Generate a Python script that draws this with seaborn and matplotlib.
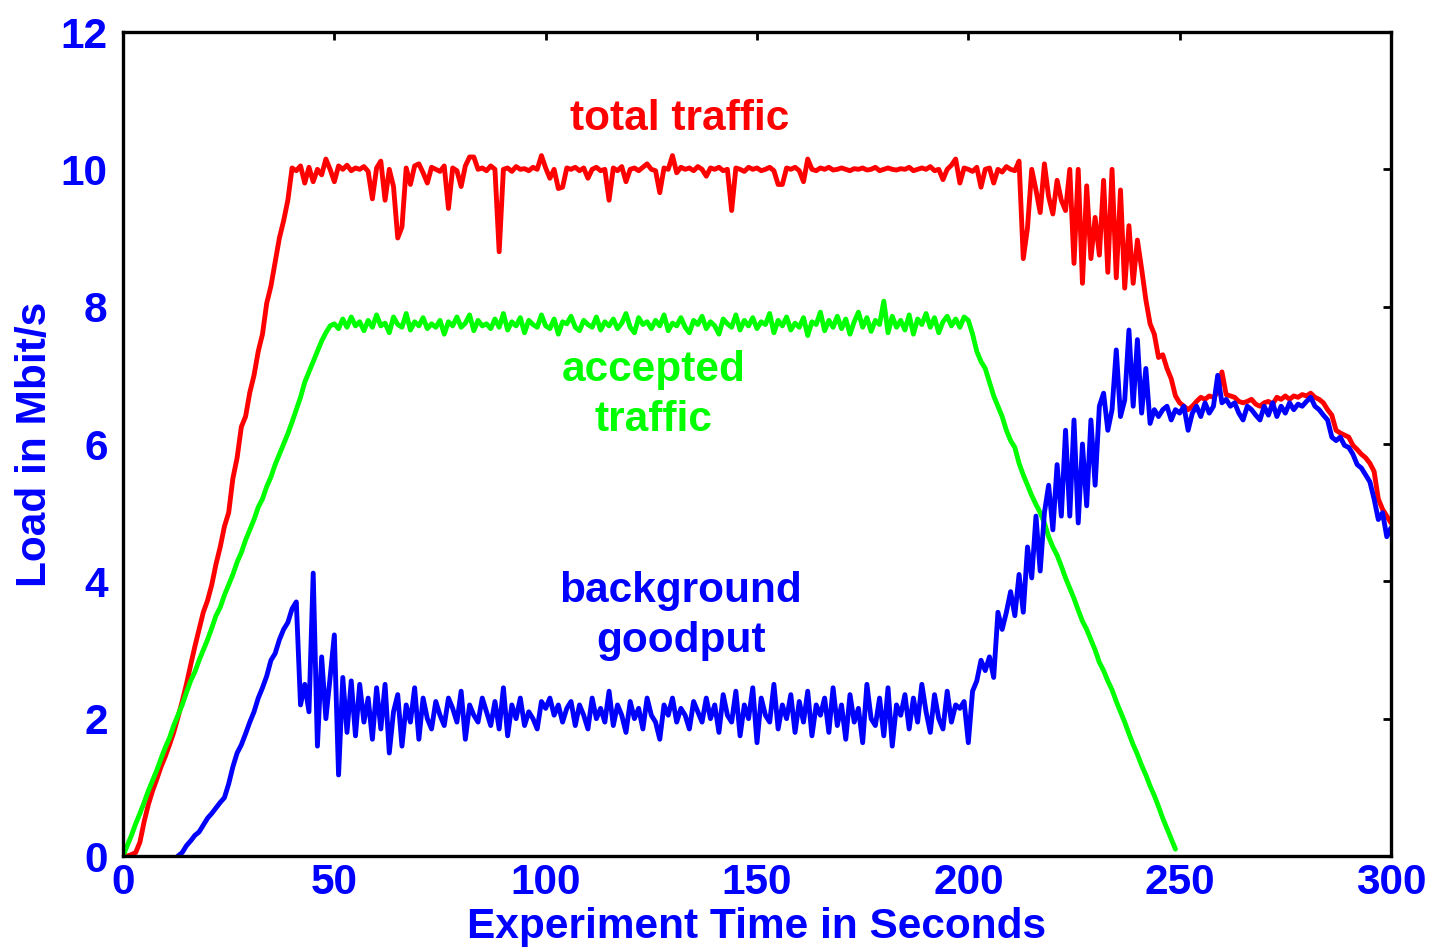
import numpy as np
import pandas as pd
import matplotlib
matplotlib.use("Agg")
import matplotlib.pyplot as plt
import seaborn as sns

# ---------------- data (1 s sampling) ----------------
time_s = list(range(0, 301))

total_traffic = [
    0.0, 0.0, 0.02, 0.05, 0.2, 0.5, 0.75, 0.95, 1.12, 1.3,
    1.45, 1.62, 1.8, 2.02, 2.25, 2.5, 2.78, 3.05, 3.3, 3.55,
    3.72, 3.95, 4.25, 4.5, 4.8, 5.0, 5.5, 5.8, 6.25, 6.4,
    6.75, 7.0, 7.35, 7.6, 8.05, 8.3, 8.65, 9.0, 9.25, 9.55,
    10.02, 9.98, 10.05, 9.8, 10.03, 9.82, 10.0, 9.92, 10.15, 10.0,
    9.82, 10.05, 10.0, 10.06, 9.98, 10.02, 10.0, 10.04, 9.97, 9.57,
    10.02, 10.12, 9.55, 10.0, 9.75, 9.0, 9.16, 10.02, 9.78, 10.05,
    10.08, 9.95, 9.8, 10.03, 10.0, 9.97, 10.05, 9.43, 10.02, 9.98,
    9.75, 10.05, 10.18, 10.18, 10.0, 10.02, 9.98, 10.05, 10.0, 8.8,
    10.0, 10.02, 9.97, 10.04, 10.0, 10.01, 9.98, 10.03, 10.0, 10.2,
    10.02, 9.87, 10.0, 9.72, 9.74, 10.02, 10.0, 10.03, 9.98, 10.02,
    9.87, 10.0, 10.03, 9.98, 10.0, 9.55, 10.02, 9.98, 10.04, 9.82,
    10.0, 10.02, 9.98, 10.03, 10.08, 10.0, 9.98, 9.66, 10.02, 10.0,
    10.2, 9.95, 10.03, 10.0, 10.02, 9.98, 10.04, 10.0, 9.9, 10.02,
    10.0, 10.03, 9.98, 10.0, 9.4, 10.02, 10.0, 9.97, 10.03, 10.0,
    10.02, 9.98, 10.0, 10.03, 9.98, 9.78, 9.78, 10.02, 10.0, 10.03,
    9.98, 9.82, 10.15, 10.0, 9.98, 10.02, 10.0, 10.03, 9.99, 10.0,
    10.02, 10.0, 9.98, 10.01, 10.0, 10.02, 9.99, 10.0, 10.03, 9.98,
    10.0, 10.02, 10.0, 9.99, 10.01, 10.0, 10.03, 9.98, 10.0, 10.02,
    10.0, 10.04, 9.98, 10.0, 9.85, 10.0, 10.06, 10.15, 9.8, 10.02,
    10.0, 9.97, 10.03, 9.74, 10.0, 10.02, 9.8, 10.0, 9.96, 10.04,
    10.0, 9.98, 10.12, 8.7, 9.15, 10.0, 9.7, 9.37, 10.08, 9.6,
    9.35, 9.84, 9.55, 9.4, 10.0, 8.63, 10.0, 8.34, 9.76, 8.7,
    9.3, 8.75, 9.84, 8.5, 10.0, 8.42, 9.7, 8.27, 9.18, 8.34,
    8.97, 8.55, 8.1, 7.75, 7.6, 7.26, 7.3, 7.1, 6.95, 6.7,
    6.6, 6.55, 6.5, 6.55, 6.62, 6.68, 6.65, 6.7, 6.68, 6.75,
    7.05, 6.72, 6.7, 6.68, 6.62, 6.6, 6.62, 6.65, 6.58, 6.55,
    6.6, 6.62, 6.58, 6.68, 6.65, 6.7, 6.65, 6.7, 6.68, 6.72,
    6.7, 6.74, 6.68, 6.65, 6.6, 6.5, 6.42, 6.2, 6.16, 6.13,
    6.1, 5.98, 5.92, 5.85, 5.8, 5.72, 5.6, 5.2, 5.05, 4.95,
    4.85,
]

nan = float("nan")
background_goodput = [
    nan, nan, nan, nan, nan, nan, nan, nan, nan, nan,
    nan, nan, nan, 0.0, 0.05, 0.15, 0.22, 0.3, 0.35, 0.45,
    0.55, 0.62, 0.7, 0.78, 0.85, 1.05, 1.3, 1.5, 1.62, 1.78,
    1.95, 2.1, 2.3, 2.45, 2.62, 2.85, 2.95, 3.15, 3.3, 3.4,
    3.6, 3.7, 2.2, 2.5, 2.1, 4.12, 1.6, 2.9, 2.0, 2.6,
    3.22, 1.18, 2.6, 1.8, 2.55, 1.75, 2.5, 1.95, 2.3, 1.7,
    2.45, 1.85, 2.5, 1.5, 2.1, 2.35, 1.6, 2.2, 1.95, 2.45,
    1.7, 2.3, 2.0, 1.85, 2.25, 2.05, 1.9, 2.3, 2.15, 1.95,
    2.4, 1.7, 2.2, 2.05, 1.95, 2.3, 2.1, 1.9, 2.25, 1.85,
    2.45, 1.75, 2.2, 2.0, 2.3, 1.9, 2.1, 2.0, 1.85, 2.25,
    2.15, 2.3, 2.05, 2.2, 1.95, 2.15, 2.25, 1.9, 2.2, 2.05,
    1.85, 2.3, 2.0, 2.15, 1.95, 2.4, 1.9, 2.2, 2.05, 1.8,
    2.25, 2.0, 2.15, 1.85, 2.3, 2.05, 1.95, 1.7, 2.2, 2.05,
    2.3, 1.95, 2.15, 2.05, 1.85, 2.25, 2.1, 1.95, 2.3, 2.0,
    2.2, 1.8, 2.35, 2.05, 1.95, 2.4, 1.75, 2.2, 2.0, 2.45,
    1.65, 2.3, 2.05, 1.95, 2.5, 1.85, 2.2, 2.0, 2.35, 1.8,
    2.25, 1.95, 2.4, 1.75, 2.2, 2.05, 2.3, 1.8, 2.45, 1.9,
    2.2, 1.7, 2.35, 1.95, 2.15, 1.65, 2.5, 2.0, 1.9, 2.3,
    1.75, 2.45, 1.6, 2.2, 2.05, 2.35, 1.85, 2.3, 1.95, 2.5,
    2.1, 1.8, 2.35, 2.0, 1.85, 2.4, 1.95, 2.2, 2.15, 2.25,
    1.65, 2.4, 2.55, 2.85, 2.7, 2.9, 2.6, 3.55, 3.3, 3.55,
    3.85, 3.5, 4.1, 3.55, 4.5, 4.05, 4.95, 4.15, 5.0, 5.4,
    4.75, 5.7, 4.95, 6.2, 4.95, 6.35, 4.85, 6.0, 5.1, 6.35,
    5.4, 6.55, 6.74, 6.2, 6.5, 7.37, 6.4, 6.64, 7.66, 6.55,
    7.52, 6.45, 7.1, 6.3, 6.5, 6.4, 6.5, 6.55, 6.35, 6.5,
    6.45, 6.55, 6.2, 6.45, 6.55, 6.4, 6.6, 6.45, 6.55, 7.0,
    6.6, 6.65, 6.55, 6.6, 6.45, 6.35, 6.55, 6.5, 6.42, 6.35,
    6.55, 6.42, 6.6, 6.4, 6.55, 6.45, 6.6, 6.5, 6.58, 6.55,
    6.62, 6.68, 6.55, 6.5, 6.42, 6.35, 6.1, 6.05, 6.1, 5.98,
    5.95, 5.85, 5.7, 5.65, 5.55, 5.45, 5.2, 4.9, 5.0, 4.65,
    4.78,
]

accepted_traffic = [
    0.0, 0.15, 0.3, 0.47, 0.62, 0.78, 0.95, 1.1, 1.25, 1.42,
    1.58, 1.72, 1.9, 2.05, 2.2, 2.38, 2.55, 2.68, 2.85, 3.0,
    3.15, 3.32, 3.5, 3.62, 3.8, 3.95, 4.1, 4.28, 4.42, 4.6,
    4.75, 4.9, 5.08, 5.2, 5.38, 5.52, 5.7, 5.85, 6.0, 6.15,
    6.32, 6.5, 6.68, 6.9, 7.05, 7.2, 7.35, 7.5, 7.62, 7.72,
    7.75, 7.68, 7.82, 7.7, 7.85, 7.72, 7.78, 7.65, 7.8, 7.7,
    7.88, 7.72, 7.76, 7.62, 7.85, 7.74, 7.7, 7.9, 7.66, 7.78,
    7.72, 7.84, 7.68, 7.75, 7.7, 7.8, 7.6, 7.78, 7.72, 7.85,
    7.7, 7.76, 7.88, 7.65, 7.8, 7.72, 7.75, 7.68, 7.82, 7.7,
    7.9, 7.66, 7.78, 7.72, 7.84, 7.62, 7.8, 7.74, 7.7, 7.88,
    7.72, 7.68, 7.82, 7.6, 7.78, 7.75, 7.86, 7.7, 7.65, 7.8,
    7.74, 7.7, 7.85, 7.66, 7.78, 7.72, 7.82, 7.68, 7.76, 7.9,
    7.7, 7.62, 7.84, 7.74, 7.78, 7.68, 7.8, 7.72, 7.88, 7.65,
    7.76, 7.72, 7.84, 7.7, 7.62, 7.8, 7.74, 7.86, 7.68, 7.78,
    7.72, 7.6, 7.82, 7.75, 7.7, 7.88, 7.66, 7.8, 7.72, 7.84,
    7.68, 7.78, 7.74, 7.9, 7.62, 7.8, 7.72, 7.85, 7.66, 7.76,
    7.7, 7.84, 7.58, 7.78, 7.74, 7.92, 7.65, 7.8, 7.7, 7.86,
    7.68, 7.82, 7.6, 7.78, 7.92, 7.7, 7.84, 7.64, 7.8, 7.74,
    8.08, 7.62, 7.86, 7.7, 7.8, 7.66, 7.88, 7.6, 7.82, 7.74,
    7.9, 7.7, 7.84, 7.62, 7.78, 7.86, 7.72, 7.82, 7.7, 7.85,
    7.8, 7.6, 7.35, 7.2, 7.1, 6.9, 6.7, 6.55, 6.4, 6.2,
    6.05, 5.95, 5.72, 5.55, 5.4, 5.25, 5.12, 5.0, 4.85, 4.65,
    4.5, 4.38, 4.22, 4.05, 3.9, 3.75, 3.58, 3.42, 3.3, 3.15,
    3.0, 2.82, 2.7, 2.55, 2.42, 2.25, 2.1, 1.95, 1.78, 1.62,
    1.48, 1.32, 1.18, 1.02, 0.88, 0.72, 0.55, 0.4, 0.25, 0.1,
]

series_names = ["total traffic", "accepted traffic", "background goodput"]
series_colors = {"total traffic": "#ff0000",
                 "accepted traffic": "#00ff00",
                 "background goodput": "#0000ff"}

x_ticks = [0, 50, 100, 150, 200, 250, 300]
y_ticks = [0, 2, 4, 6, 8, 10, 12]

# ---------------- build long-form table ----------------
frames = []
for name, vals in zip(series_names, [total_traffic, accepted_traffic, background_goodput]):
    frames.append(pd.DataFrame({"t": time_s[:len(vals)], "v": vals, "series": name}))
df = pd.concat(frames, ignore_index=True).dropna()

# ---------------- style ----------------
sns.set_theme(style="white")
plt.rcParams["font.family"] = ["Liberation Sans", "DejaVu Sans"]
plt.rcParams["font.weight"] = "bold"

BLUE = "#0000ff"
FS = 30.5

fig = plt.figure(figsize=(14.37, 9.49), dpi=100)
W, H = 1437, 949
ax = fig.add_axes([123 / W, 1 - 856 / H, (1391 - 123) / W, (856 - 32) / H])

sns.lineplot(data=df, x="t", y="v", hue="series", hue_order=series_names,
             palette=series_colors, estimator=None, sort=False,
             linewidth=3.5, legend=False, ax=ax)

ax.set_xlim(0, 300)
ax.set_ylim(0, 12)
ax.set_xticks(x_ticks)
ax.set_yticks(y_ticks)
ax.set_xticklabels([str(v) for v in x_ticks])
ax.set_yticklabels([str(v) for v in y_ticks])

for s in ax.spines.values():
    s.set_visible(True)
    s.set_color("black")
    s.set_linewidth(2.4)

ax.tick_params(axis="both", which="major", direction="in", length=6, width=2,
               color="black", top=True, right=True, labelsize=FS,
               labelcolor=BLUE)
ax.tick_params(axis="x", pad=5)
ax.tick_params(axis="y", pad=11)
for lbl in ax.get_xticklabels() + ax.get_yticklabels():
    lbl.set_fontweight("bold")

ax.set_xlabel("Experiment Time in Seconds", fontsize=FS, fontweight="bold",
              color=BLUE, labelpad=3)
ax.set_ylabel("Load in Mbit/s", fontsize=FS, fontweight="bold",
              color=BLUE, labelpad=4)
ax.grid(False)

ax.text(131.8, 10.74, "total traffic", color="#ff0000", fontsize=FS,
        fontweight="bold", ha="center", va="center")
ax.text(125.6, 6.72, "accepted\ntraffic", color="#00ff00", fontsize=FS,
        fontweight="bold", ha="center", va="center", linespacing=1.32)
ax.text(132.0, 3.5, "background\ngoodput", color=BLUE, fontsize=FS,
        fontweight="bold", ha="center", va="center", linespacing=1.32)

fig.savefig("out.png", dpi=100, facecolor="white")
